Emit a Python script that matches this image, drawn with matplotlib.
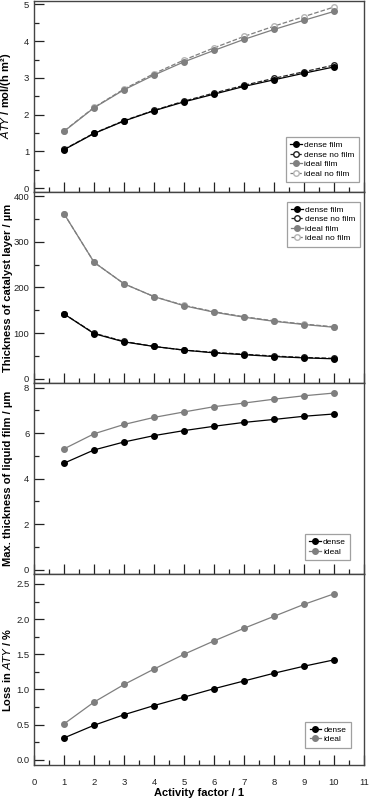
import matplotlib
matplotlib.use("Agg")
import matplotlib.pyplot as plt
from matplotlib.ticker import MultipleLocator

# activity factor
factor = [1, 2, 3, 4, 5, 6, 7, 8, 9, 10]

# ATY / mol/(h m2)
aty_dense_film = [1.05, 1.49, 1.83, 2.11, 2.35, 2.56, 2.77, 2.95, 3.13, 3.30]
aty_dense_nofilm = [1.06, 1.50, 1.84, 2.12, 2.37, 2.59, 2.80, 2.99, 3.17, 3.35]
aty_ideal_film = [1.55, 2.19, 2.68, 3.08, 3.44, 3.75, 4.05, 4.32, 4.57, 4.81]
aty_ideal_nofilm = [1.56, 2.20, 2.70, 3.12, 3.49, 3.82, 4.13, 4.41, 4.67, 4.93]

# thickness of catalyst layer / um
cat_dense_film = [142, 99, 81, 71, 63, 57, 53, 49, 46, 44]
cat_dense_nofilm = [142, 100, 82, 71, 63, 58, 54, 50, 47, 45]
cat_ideal_film = [361, 255, 208, 180, 160, 146, 135, 126, 119, 113]
cat_ideal_nofilm = [361, 255, 208, 180, 161, 147, 136, 127, 120, 114]

# max. thickness of liquid film / um
film_dense = [4.68, 5.26, 5.61, 5.89, 6.11, 6.30, 6.47, 6.60, 6.74, 6.84]
film_ideal = [5.31, 5.97, 6.38, 6.69, 6.93, 7.16, 7.32, 7.49, 7.64, 7.76]

# loss in ATY / %
loss_dense = [0.31, 0.49, 0.64, 0.77, 0.89, 1.01, 1.12, 1.23, 1.33, 1.42]
loss_ideal = [0.51, 0.82, 1.07, 1.29, 1.50, 1.69, 1.87, 2.04, 2.21, 2.36]

plt.rcParams['font.family'] = ['Liberation Sans', 'DejaVu Sans']

fig, axes = plt.subplots(4, 1, figsize=(3.71, 7.98), dpi=100, sharex=True)
fig.subplots_adjust(left=0.092, right=0.981, top=0.999, bottom=0.041, hspace=0)

dark = '#222222'
gray = '#7f7f7f'
light = '#b5b5b5'
ms = 4
lw = 0.9

def style(ax, ylim, major, minor, label):
    ax.set_xlim(0, 11)
    ax.set_ylim(*ylim)
    ax.xaxis.set_major_locator(MultipleLocator(1))
    ax.xaxis.set_minor_locator(MultipleLocator(0.5))
    ax.yaxis.set_major_locator(MultipleLocator(major))
    ax.yaxis.set_minor_locator(MultipleLocator(minor))
    ax.tick_params(which='both', direction='in', top=False, right=False,
                   labelsize=6.8, colors=dark, width=0.9)
    ax.tick_params(axis='y', pad=3.5)
    ax.tick_params(axis='x', pad=9)
    ax.tick_params(which='major', length=7)
    ax.tick_params(which='minor', length=3.5)
    for s in ax.spines.values():
        s.set_linewidth(1.0)
        s.set_color('#444444')
    ax.set_ylabel(label, fontsize=8, fontweight='bold')
    ax.yaxis.set_label_coords(-0.063, 0.5)

def legend(ax, loc, anchor, order=None):
    h, l = ax.get_legend_handles_labels()
    if order:
        h = [h[i] for i in order]
        l = [l[i] for i in order]
    leg = ax.legend(h, l, loc=loc, bbox_to_anchor=anchor, fontsize=6, frameon=True,
                    fancybox=False, handlelength=1.4, handletextpad=0.3,
                    labelspacing=0.2, borderpad=0.5, borderaxespad=0)
    leg.get_frame().set_edgecolor('#888888')
    leg.get_frame().set_linewidth(0.9)

def four(ax, dense_film, dense_nofilm, ideal_film, ideal_nofilm):
    ax.plot(factor, dense_nofilm, '--o', color=dark, mfc='white', mec=dark, ms=ms, lw=lw, label='dense no film', zorder=2)
    ax.plot(factor, ideal_nofilm, '--o', color=gray, mfc='white', mec=light, ms=ms, lw=lw, label='ideal no film', zorder=2)
    ax.plot(factor, dense_film, '-o', color='black', mfc='black', mec='black', ms=ms, lw=lw, label='dense film', zorder=3)
    ax.plot(factor, ideal_film, '-o', color=gray, mfc=gray, mec=gray, ms=ms, lw=lw, label='ideal film', zorder=3)

order = [2, 0, 3, 1]

# panel 1: ATY
ax = axes[0]
four(ax, aty_dense_film, aty_dense_nofilm, aty_ideal_film, aty_ideal_nofilm)
style(ax, (-0.1, 5.1), 1, 0.5, r'$\mathbf{\mathit{ATY}}$ / mol/(h m²)')
legend(ax, 'lower right', (0.985, 0.052), order)

# panel 2: catalyst layer thickness
ax = axes[1]
four(ax, cat_dense_film, cat_dense_nofilm, cat_ideal_film, cat_ideal_nofilm)
style(ax, (-9, 409), 100, 50, 'Thickness of catalyst layer / µm')
legend(ax, 'upper right', (0.988, 0.948), order)

# panel 3: liquid film
ax = axes[2]
ax.plot(factor, film_dense, '-o', color='black', ms=ms, lw=lw, label='dense')
ax.plot(factor, film_ideal, '-o', color=gray, ms=ms, lw=lw, label='ideal')
style(ax, (-0.2, 8.2), 2, 1, 'Max. thickness of liquid film / µm')
legend(ax, 'lower right', (0.958, 0.075))

# panel 4: loss in ATY
ax = axes[3]
ax.plot(factor, loss_dense, '-o', color='black', ms=ms, lw=lw, label='dense')
ax.plot(factor, loss_ideal, '-o', color=gray, ms=ms, lw=lw, label='ideal')
style(ax, (-0.08, 2.64), 0.5, 0.25, r'Loss in $\mathbf{\mathit{ATY}}$ / %')
ax.yaxis.set_major_formatter(plt.FormatStrFormatter('%.1f'))
legend(ax, 'lower right', (0.96, 0.093))
ax.set_xlabel('Activity factor / 1', fontsize=8, fontweight='bold', labelpad=1)

fig.savefig('out.png', dpi=100)
